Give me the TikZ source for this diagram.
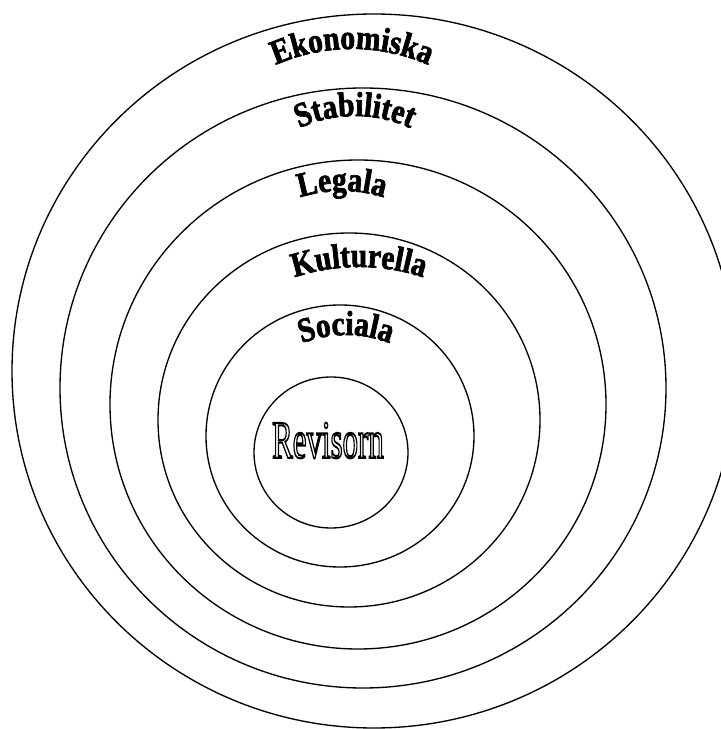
\documentclass[tikz,border=0pt]{standalone}
\usepackage{fontspec}
\setmainfont{Liberation Serif}
\newfontfamily\archfont{Liberation Serif}[BoldFeatures={FakeBold=2, FakeStretch=0.85}]
\usepackage{graphicx}
\usetikzlibrary{decorations.text}

\newcommand{\archtext}{\archfont\bfseries\fontsize{26}{30}\selectfont}
% hollow letters: stroke only
\newcommand{\hollow}[1]{\special{pdf:literal 1 Tr 1.5 w 0 0 0 RG}#1\special{pdf:literal 0 Tr}}

\begin{document}
\begin{tikzpicture}[
        x=0.75pt, y=0.75pt,
        ring/.style={draw, line width=1pt},
        arch/.style={decorate, decoration={text along path, text align=center, text={|\archtext|#1}}}
    ]
        \useasboundingbox (0,0) rectangle (721,729);
        \clip (0,0) rectangle (721,729);

        % rings, inner to outer
        \draw[ring] (331,276.5) ellipse [x radius=77, y radius=75.5];
        \draw[ring] (340,293) ellipse [x radius=134, y radius=131];
        \draw[ring] (349,309) ellipse [x radius=191, y radius=187];
        \draw[ring] (358,324.5) ellipse [x radius=248, y radius=244.5];
        \draw[ring] (363,341) ellipse [x radius=303, y radius=300];
        \draw[ring] (374,358) ellipse [x radius=362, y radius=357];

        % arched labels
        \path[arch=Ekonomiska] (352,490) ++(130:190) arc[start angle=130, end angle=50, radius=190];
        \path[arch=Stabilitet] (355,481) ++(140:132) arc[start angle=140, end angle=40, radius=132];
        \path[arch=Legala] (342,398) ++(130:140) arc[start angle=130, end angle=50, radius=140];
        \path[arch=Kulturella] (359,258) ++(125:204) arc[start angle=125, end angle=55, radius=204];
        \path[arch=Sociala] (346,274) ++(140:120) arc[start angle=140, end angle=40, radius=120];

        \node (revisorn) at (328,288.5)
            {\scalebox{0.58}[1]{\fontsize{40}{48}\selectfont\hollow{Revisorn}}};
    \end{tikzpicture}
\end{document}
